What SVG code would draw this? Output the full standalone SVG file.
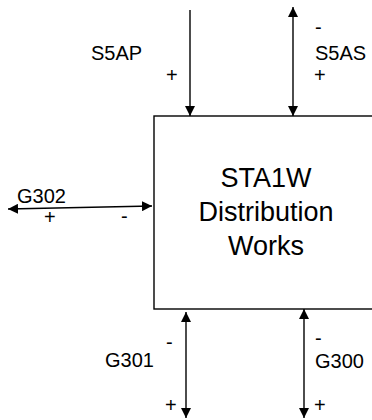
<svg xmlns="http://www.w3.org/2000/svg" width="372" height="420" viewBox="0 0 372 420">
<style>
.ln{stroke:#000;stroke-width:1.4;fill:none}
.s{font-family:"Liberation Sans",Arial,sans-serif;font-size:20px;fill:#000}
.b{font-family:"Liberation Sans",Arial,sans-serif;font-size:27px;fill:#000;text-anchor:middle}
</style>
<defs>
<marker id="ah" viewBox="0 0 10 10" refX="10" refY="5" markerWidth="10" markerHeight="10" markerUnits="userSpaceOnUse" orient="auto-start-reverse">
<path d="M0,0 L10,5 L0,10 Z" fill="#000"/>
</marker>
</defs>
<rect width="372" height="420" fill="#fff"/>
<g id="box">
<rect x="154" y="116" width="240" height="193" class="ln" stroke-width="1.6"/>
<text class="b" x="266" y="187">STA1W</text>
<text class="b" x="266" y="221">Distribution</text>
<text class="b" x="266" y="255">Works</text>
</g>
<g id="connectors">
<line class="ln" x1="190" y1="10" x2="190" y2="116" marker-end="url(#ah)"/>
<line class="ln" x1="293" y1="7" x2="293" y2="116" marker-start="url(#ah)" marker-end="url(#ah)"/>
<line class="ln" x1="8" y1="209" x2="152" y2="206" marker-start="url(#ah)" marker-end="url(#ah)"/>
<line class="ln" x1="186" y1="312" x2="186" y2="418" marker-start="url(#ah)" marker-end="url(#ah)"/>
<line class="ln" x1="304" y1="309" x2="304" y2="418" marker-start="url(#ah)" marker-end="url(#ah)"/>
</g>
<g id="labels">
<text class="s" x="91" y="60">S5AP</text>
<text class="s" x="166" y="82">+</text>
<text class="s" x="315" y="34">-</text>
<text class="s" x="315" y="60">S5AS</text>
<text class="s" x="314" y="82">+</text>
<text class="s" x="17" y="203">G302</text>
<text class="s" x="44" y="224">+</text>
<text class="s" x="121" y="223">-</text>
<text class="s" x="105" y="367">G301</text>
<text class="s" x="166" y="349">-</text>
<text class="s" x="165" y="412">+</text>
<text class="s" x="315" y="368">G300</text>
<text class="s" x="315" y="345">-</text>
<text class="s" x="314" y="412">+</text>
</g>
</svg>
